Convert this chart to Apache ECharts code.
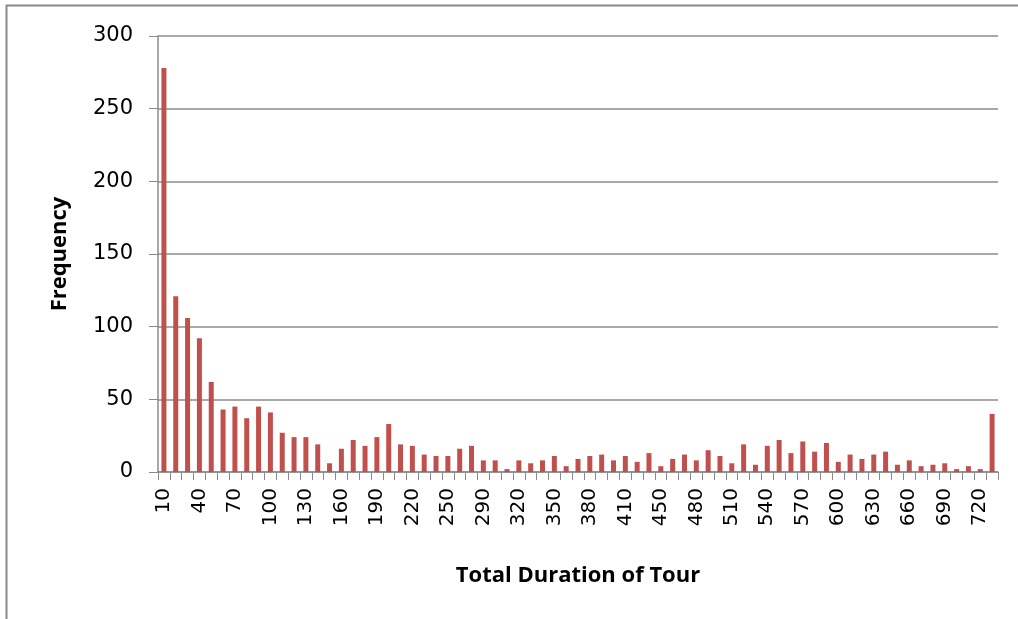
<!DOCTYPE html>
<html>
<head>
<meta charset="utf-8">
<script src="https://cdn.jsdelivr.net/npm/echarts@6/dist/echarts.min.js"></script>
<style>
  html, body { margin: 0; padding: 0; background: #fff; }
  #chart { width: 1018px; height: 619px; }
</style>
</head>
<body>
<div id="chart"></div>
<script>
// Histogram bins (minutes) and how many tours fall in each
const durationBins = [
  '10','20','30','40','50','60','70','80','90','100',
  '110','120','130','140','150','160','170','180','190','200',
  '210','220','230','240','250','260','270','290','300','310',
  '320','330','340','350','360','370','380','390','400','410',
  '420','430','450','460','470','480','490','500','510','520',
  '530','540','550','560','570','580','590','600','610','620',
  '630','640','650','660','670','680','690','700','710','720',
  'More'
];
const frequency = [
  278, 121, 106, 92, 62, 43, 45, 37, 45, 41,
  27, 24, 24, 19, 6, 16, 22, 18, 24, 33,
  19, 18, 12, 11, 11, 16, 18, 8, 8, 2,
  8, 6, 8, 11, 4, 9, 11, 12, 8, 11,
  7, 13, 4, 9, 12, 8, 15, 11, 6, 19,
  5, 18, 22, 13, 21, 14, 20, 7, 12, 9,
  12, 14, 5, 8, 4, 5, 6, 2, 4, 2,
  40
];
const yTicks = { min: 0, max: 300, step: 50 };

const chart = echarts.init(document.getElementById('chart'), null, { renderer: 'canvas' });

chart.setOption({
  animation: false,
  backgroundColor: '#ffffff',
  graphic: [{
    type: 'rect',
    shape: { x: 6.5, y: 5.5, width: 1100, height: 700 },
    style: { fill: 'none', stroke: '#8a8a8a', lineWidth: 2 },
    silent: true
  }],
  grid: { left: 158, right: 20, top: 36, bottom: 147, containLabel: false },
  xAxis: {
    type: 'category',
    data: durationBins,
    name: 'Total Duration of Tour',
    nameLocation: 'middle',
    nameGap: 93,
    nameTextStyle: { fontFamily: 'Open Sans', fontWeight: 'bold', fontSize: 22, color: '#000' },
    axisLine: { show: true, lineStyle: { color: '#8c8c8c', width: 1.5 } },
    axisTick: { show: true, interval: 0, length: 8, lineStyle: { color: '#8c8c8c' } },
    axisLabel: {
      interval: 2,
      rotate: 90,
      margin: 16,
      fontFamily: 'DejaVu Sans',
      fontSize: 20,
      color: '#000'
    },
    splitLine: { show: false }
  },
  yAxis: {
    type: 'value',
    min: yTicks.min,
    max: yTicks.max,
    interval: yTicks.step,
    name: 'Frequency',
    nameLocation: 'middle',
    nameGap: 87,
    nameRotate: 90,
    nameTextStyle: { fontFamily: 'Open Sans', fontWeight: 'bold', fontSize: 22, color: '#000' },
    axisLine: { show: true, lineStyle: { color: '#8c8c8c', width: 1.5 } },
    axisTick: { show: true, length: 9, lineStyle: { color: '#8c8c8c' } },
    axisLabel: {
      margin: 25,
      fontFamily: 'DejaVu Sans',
      fontSize: 21,
      color: '#000'
    },
    splitLine: { show: true, lineStyle: { color: '#8c8c8c', width: 1.5 } }
  },
  series: [{
    type: 'bar',
    data: frequency,
    barWidth: 5,
    itemStyle: { color: '#c0504d' }
  }]
});
</script>
</body>
</html>
